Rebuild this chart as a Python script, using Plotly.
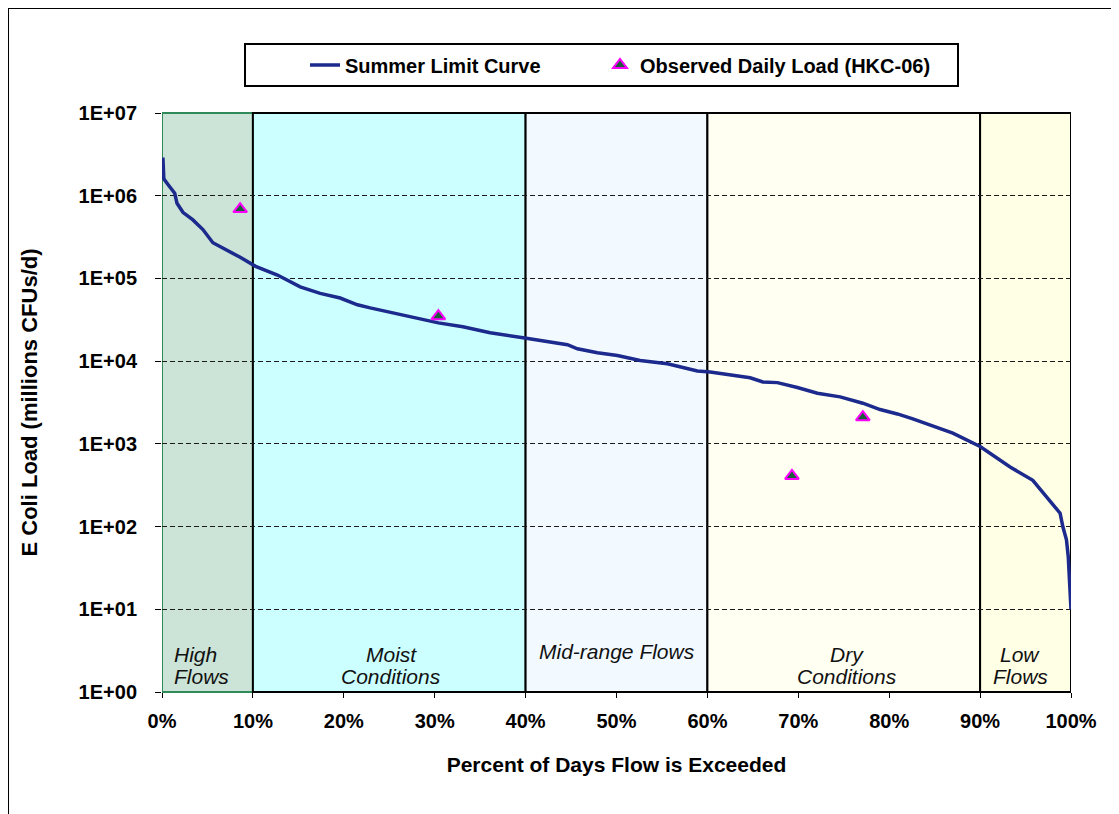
import plotly.graph_objects as go

# flow duration curve (summer limit), percent of days exceeded vs load
curve_pct = [0.1, 0.2, 0.7, 1.4, 1.65, 2.3, 3.4, 4.5, 5.6, 7.2, 8.6, 10.3, 12.7, 15.2,
             17.4, 19.6, 21.5, 22.9, 25.4, 28.1, 30.4, 33.1, 36.1, 39.9, 42.7, 44.6,
             45.7, 47.9, 50.1, 52.6, 55.6, 58.9, 60.3, 62.5, 64.7, 66.1, 67.7, 69.9,
             72.1, 74.6, 77.1, 79.0, 80.9, 82.6, 84.5, 87.0, 90.0, 93.3, 95.8, 98.0,
             98.8, 99.1, 99.5, 99.7, 99.9, 100.0]
curve_load = [2.9e6, 1.6e6, 1.35e6, 1.07e6, 8.1e5, 6.3e5, 5.1e5, 3.9e5, 2.7e5, 2.2e5,
              1.8e5, 1.4e5, 1.1e5, 7.9e4, 6.6e4, 5.8e4, 4.8e4, 4.4e4, 3.8e4, 3.3e4,
              2.9e4, 2.6e4, 2.2e4, 1.9e4, 1.7e4, 1.58e4, 1.41e4, 1.26e4, 1.17e4, 1.02e4,
              9.3e3, 7.6e3, 7.4e3, 6.9e3, 6.3e3, 5.6e3, 5.5e3, 4.8e3, 4.1e3, 3.7e3,
              3.1e3, 2.6e3, 2.3e3, 2.0e3, 1.7e3, 1.35e3, 930, 525, 363, 190,
              145, 100, 69, 43, 13, 10]

# observed daily loads at HKC-06
obs_pct = [8.6, 30.4, 69.3, 77.1]
obs_load = [6.9e5, 3.5e4, 410, 2.1e3]

# flow zones
zone_start = [0, 10, 40, 60, 90]
zone_end = [10, 40, 60, 90, 100]
zone_fill = ['#CCE4D7', '#CCFFFF', '#F2FAFF', '#FFFFF2', '#FFFFE6']
zone_edge = ['#2E8B57', 'black', 'black', 'black', 'black']
label_top = ['High', 'Moist', 'Mid-range Flows', 'Dry', 'Low']
label_bottom = ['Flows', 'Conditions', '', 'Conditions', 'Flows']
label_x = [1.1, 25.2, 50.0, 75.4, 94.4]

y_ticks = [1, 10, 100, 1e3, 1e4, 1e5, 1e6, 1e7]
y_ticktext = ['1E+00', '1E+01', '1E+02', '1E+03', '1E+04', '1E+05', '1E+06', '1E+07']
x_ticks = [0, 10, 20, 30, 40, 50, 60, 70, 80, 90, 100]

FONT = 'Liberation Sans, Arial, sans-serif'

fig = go.Figure()
fig.add_trace(go.Scatter(x=curve_pct, y=curve_load, mode='lines',
                         name='<b>Summer Limit Curve</b>', legend='legend',
                         line=dict(color='#1B2A8C', width=3.5)))
fig.add_trace(go.Scatter(x=obs_pct, y=obs_load, mode='markers',
                         name='<b>Observed Daily Load (HKC-06)</b>', legend='legend2',
                         marker=dict(symbol='triangle-up', size=12, color='#1B5E3B',
                                     line=dict(color='#FF00FF', width=2))))

for x0, x1, fill, edge in zip(zone_start, zone_end, zone_fill, zone_edge):
    fig.add_shape(type='rect', xref='x', yref='paper', x0=x0, x1=x1, y0=0, y1=1,
                  fillcolor=fill, line=dict(color=edge, width=2), layer='below')

for i, (top, bot, lx) in enumerate(zip(label_top, label_bottom, label_x)):
    anchor = 'left' if i == 0 else 'center'
    lab_font = dict(family=FONT, size=21, color='#111111')
    if bot:
        fig.add_annotation(x=lx, y=(692 - 654) / 579, xref='x', yref='paper',
                           text='<i>' + top + '</i>', showarrow=False,
                           xanchor=anchor, yanchor='middle', font=lab_font)
        fig.add_annotation(x=lx, y=(692 - 676) / 579, xref='x', yref='paper',
                           text='<i>' + bot + '</i>', showarrow=False,
                           xanchor=anchor, yanchor='middle', font=lab_font)
    else:
        fig.add_annotation(x=lx, y=(692 - 651) / 579, xref='x', yref='paper',
                           text='<i>' + top + '</i>', showarrow=False,
                           xanchor=anchor, yanchor='middle', font=lab_font)

# outer chart border and legend box
fig.add_shape(type='rect', xref='paper', yref='paper', x0=-0.1694, x1=1.3, y0=-0.4, y1=1.1813,
              line=dict(color='black', width=2), fillcolor='rgba(0,0,0,0)')
fig.add_shape(type='rect', xref='paper', yref='paper', x0=(245 - 162) / 909, x1=(958 - 162) / 909,
              y0=(692 - 86) / 579, y1=(692 - 44) / 579,
              line=dict(color='black', width=2), fillcolor='white', layer='below')

leg_font = dict(family=FONT, size=20, color='black')
fig.update_layout(
    width=1119, height=814,
    margin=dict(l=154, r=56, t=105, b=130),
    paper_bgcolor='white', plot_bgcolor='rgba(0,0,0,0)',
    font=dict(family=FONT, color='black'),
    showlegend=True,
    legend=dict(orientation='h', x=(305 - 162) / 909, xanchor='left',
                y=(692 - 65) / 579, yanchor='middle', font=leg_font,
                bgcolor='rgba(0,0,0,0)'),
    legend2=dict(orientation='h', x=(600 - 162) / 909, xanchor='left',
                 y=(692 - 65) / 579, yanchor='middle', font=leg_font,
                 bgcolor='rgba(0,0,0,0)'),
    xaxis=dict(range=[0, 100], tickvals=x_ticks,
               ticktext=['<b>%d%%</b>' % v for v in x_ticks],
               ticks='outside', ticklen=5, tickcolor='black', showgrid=False,
               showline=False, zeroline=False, ticklabelstandoff=6,
               tickfont=dict(family=FONT, size=20, color='black'),
               title=dict(text='<b>Percent of Days Flow is Exceeded</b>', standoff=26,
                          font=dict(family=FONT, size=21, color='black'))),
    yaxis=dict(type='log', range=[0, 7], tickvals=y_ticks,
               ticktext=['<b>' + t + '</b>' for t in y_ticktext],
               ticks='outside', ticklen=6, tickcolor='black', ticklabelstandoff=14,
               showgrid=True, gridcolor='#1a1a1a', gridwidth=1, griddash='5px,3px',
               showline=False, zeroline=False,
               tickfont=dict(family=FONT, size=20, color='black'),
               title=dict(text='<b>E Coli Load (millions CFUs/d)</b>', standoff=34,
                          font=dict(family=FONT, size=22, color='black'))),
)

fig.write_html('out.html')
